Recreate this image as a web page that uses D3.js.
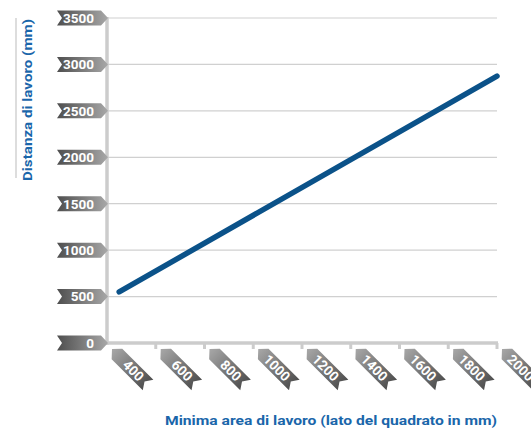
<!DOCTYPE html>
<html>
<head>
<meta charset="utf-8">
<script src="https://cdn.jsdelivr.net/npm/d3@7"></script>
<style>
  body { margin: 0; background: #fff; }
  text { font-family: Roboto, "Open Sans", sans-serif; }
</style>
</head>
<body>
<svg id="chart" width="531" height="432"></svg>
<script>
// dati
var xTicks = [400, 600, 800, 1000, 1200, 1400, 1600, 1800, 2000];
var yTicks = [0, 500, 1000, 1500, 2000, 2500, 3000, 3500];
var latoQuadrato = [450, 2000];      // mm
var distanzaLavoro = [550, 2875];    // mm
var xTitle = "Minima area di lavoro (lato del quadrato in mm)";
var yTitle = "Distanza di lavoro (mm)";

var svg = d3.select("#chart");
var plotLeft = 107, plotRight = 497, plotTop = 18, plotBottom = 343;

var x = d3.scaleLinear().domain([400, 2000]).range([plotLeft, plotRight]);
var y = d3.scaleLinear().domain([0, 3500]).range([plotBottom, plotTop]);

// gradiente delle etichette (punta chiara, coda scura)
var defs = svg.append("defs");
var grad = defs.append("linearGradient").attr("id", "flag")
    .attr("x1", 0).attr("y1", 0).attr("x2", 1).attr("y2", 0);
grad.append("stop").attr("offset", 0).attr("stop-color", "#a8a8a8");
grad.append("stop").attr("offset", 1).attr("stop-color", "#4e4e4e");

// forma a bandierina: punta in 0,0, coda a L
var L = 51, h = 7.5;
function flagPath() {
    return "M0,0 L7," + (-h) + " L" + L + "," + (-h) + " L" + (L - 5) + ",0 L" + L + "," + h + " L7," + h + " Z";
}

// griglia orizzontale
svg.append("g").selectAll("line")
    .data(yTicks.filter(d => d > 0))
    .enter().append("line")
    .attr("x1", plotLeft).attr("x2", plotRight)
    .attr("y1", d => y(d)).attr("y2", d => y(d))
    .attr("stroke", "#d0d0d0").attr("stroke-width", 1.2);

// asse y
svg.append("line")
    .attr("x1", plotLeft).attr("x2", plotLeft)
    .attr("y1", plotTop - 1).attr("y2", plotBottom + 2)
    .attr("stroke", "#cccccc").attr("stroke-width", 3.5);

// asse x con tacche
svg.append("line")
    .attr("x1", plotLeft).attr("x2", plotRight + 1)
    .attr("y1", plotBottom).attr("y2", plotBottom)
    .attr("stroke", "#cccccc").attr("stroke-width", 3.5);
svg.append("g").selectAll("line")
    .data(xTicks.slice(1))
    .enter().append("line")
    .attr("x1", d => x(d)).attr("x2", d => x(d))
    .attr("y1", plotBottom).attr("y2", plotBottom + 6)
    .attr("stroke", "#cccccc").attr("stroke-width", 3);

// etichette y
var yl = svg.append("g").selectAll("g")
    .data(yTicks)
    .enter().append("g")
    .attr("transform", d => "translate(" + (plotLeft + 1) + "," + y(d) + ")");
yl.append("path")
    .attr("d", flagPath())
    .attr("transform", "scale(-1,1)")
    .attr("fill", "url(#flag)");
yl.append("text")
    .attr("x", -14).attr("dy", "0.36em")
    .attr("text-anchor", "end")
    .attr("fill", "#fff").attr("font-weight", "bold").attr("font-size", 13.5)
    .text(d => d);

// etichette x
var xl = svg.append("g").selectAll("g")
    .data(xTicks)
    .enter().append("g")
    .attr("transform", d => "translate(" + (x(d) + 5) + "," + (plotBottom + 6) + ") rotate(45)");
xl.append("path")
    .attr("d", flagPath())
    .attr("fill", "url(#flag)");
xl.append("text")
    .attr("x", 42).attr("dy", "0.36em")
    .attr("text-anchor", "end")
    .attr("fill", "#fff").attr("font-weight", "bold").attr("font-size", 13.5)
    .text(d => d);

// linea dati
var line = d3.line().x(d => x(d[0])).y(d => y(d[1]));
svg.append("path")
    .datum(latoQuadrato.map((v, i) => [v, distanzaLavoro[i]]))
    .attr("d", line)
    .attr("fill", "none")
    .attr("stroke", "#0b5289")
    .attr("stroke-width", 5.5)
    .attr("stroke-linecap", "round");

// titoli
svg.append("line")
    .attr("x1", 16).attr("x2", 16).attr("y1", 18).attr("y2", 178)
    .attr("stroke", "#bbbbbb").attr("stroke-width", 1);
svg.append("text")
    .attr("transform", "translate(32,100) rotate(-90)")
    .attr("text-anchor", "middle")
    .attr("fill", "#1a66aa").attr("font-weight", "bold").attr("font-size", 13.5)
    .attr("textLength", 162).attr("lengthAdjust", "spacingAndGlyphs")
    .text(yTitle);
svg.append("text")
    .attr("x", 165).attr("y", 425)
    .attr("fill", "#1a66aa").attr("font-weight", "bold").attr("font-size", 13.5)
    .attr("textLength", 332).attr("lengthAdjust", "spacingAndGlyphs")
    .text(xTitle);
</script>
</body>
</html>
